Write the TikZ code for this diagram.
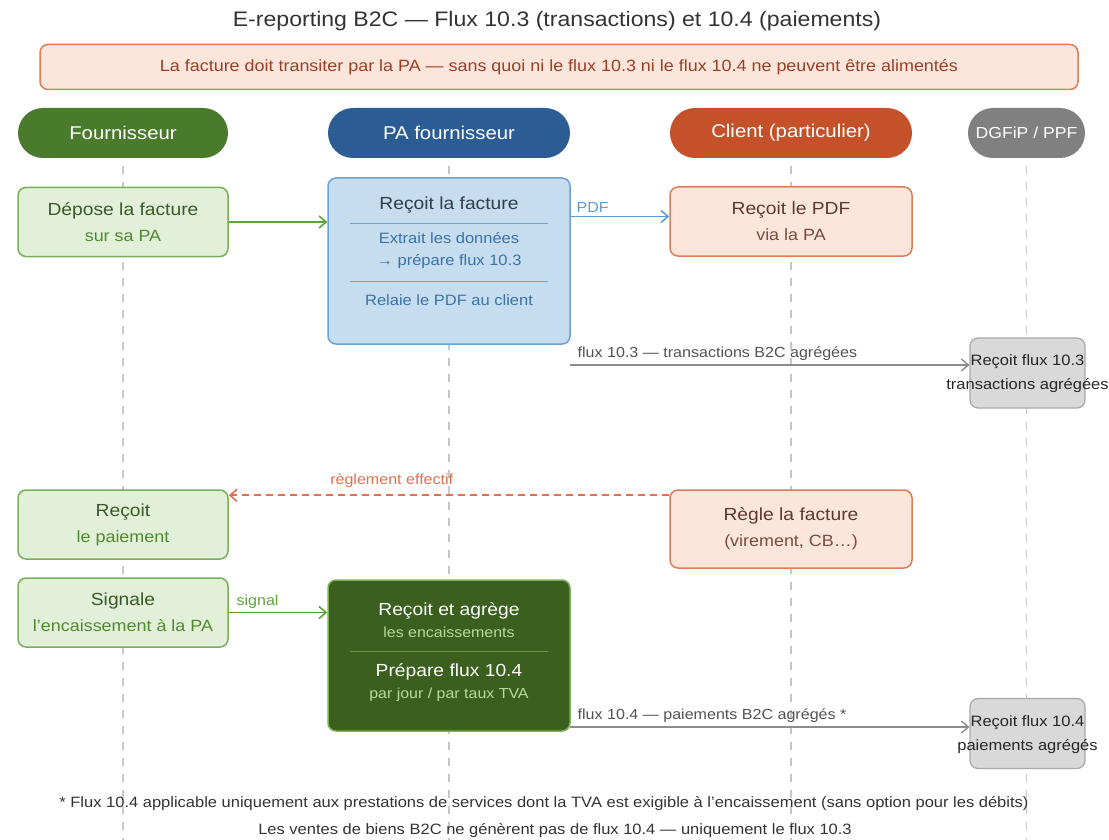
\documentclass[tikz,border=0pt]{standalone}
\usepackage{fontspec}
\setmainfont{Liberation Sans}[FakeStretch=1.1]
\usepackage{tikz}
\usetikzlibrary{arrows.meta}
\usetikzlibrary{positioning}

\definecolor{hdrGreen}{HTML}{4A7A2C}
\definecolor{hdrBlue}{HTML}{2B5C94}
\definecolor{hdrOrange}{HTML}{C4512A}
\definecolor{hdrGrey}{HTML}{808080}
\definecolor{fillGreen}{HTML}{E2F0D9}
\definecolor{edgeGreen}{HTML}{78B05A}
\definecolor{txtGreen}{HTML}{3A5A28}
\definecolor{subGreen}{HTML}{4F8A2E}
\definecolor{fillBlue}{HTML}{C6DDF0}
\definecolor{edgeBlue}{HTML}{6AA3D8}
\definecolor{txtBlue}{HTML}{2E3D4F}
\definecolor{subBlue}{HTML}{3A72A8}
\definecolor{fillPeach}{HTML}{FCE6DB}
\definecolor{edgePeach}{HTML}{DC7E58}
\definecolor{txtPeach}{HTML}{5C3A30}
\definecolor{subPeach}{HTML}{7B4B3E}
\definecolor{fillGrey}{HTML}{D9D9D9}
\definecolor{edgeGrey}{HTML}{A8A8A8}
\definecolor{fillDark}{HTML}{3B5F1F}
\definecolor{subDark}{HTML}{B7DB9C}
\definecolor{laneGrey}{HTML}{C8C8C8}
\definecolor{arrGreen}{HTML}{5EA33A}
\definecolor{arrBlue}{HTML}{5B9BD5}
\definecolor{arrGrey}{HTML}{8C8C8C}
\definecolor{arrOrange}{HTML}{E07050}
\definecolor{bannerTxt}{HTML}{9C3F26}
\definecolor{darkTxt}{HTML}{333333}

\newcommand{\titlesz}{\fontsize{21}{25}\selectfont}
\newcommand{\hdsz}{\fontsize{18.5}{22}\selectfont}
\newcommand{\bigsz}{\fontsize{17.5}{26}\selectfont}
\newcommand{\subsz}{\fontsize{16.3}{26}\selectfont}
\newcommand{\lblsz}{\fontsize{14.6}{17}\selectfont}

\begin{document}
\begin{tikzpicture}[x=1pt,y=-1pt]
  \tikzset{
     lane/.style = {draw=laneGrey, line width=1.2pt, dash pattern=on 8pt off 8pt},
     hdr/.style = {
        rectangle, rounded corners=25pt,
        minimum height=50pt, text=white, font=\hdsz
     },
     gbox/.style = {
        rectangle, rounded corners=8pt, draw=edgeGreen, fill=fillGreen,
        line width=1.5pt, minimum width=210pt, minimum height=69pt,
        align=center, text=txtGreen, font=\bigsz
     },
     pbox/.style = {
        rectangle, rounded corners=8pt, draw=edgePeach, fill=fillPeach,
        line width=1.5pt, minimum width=242pt, minimum height=69pt,
        align=center, text=txtPeach, font=\bigsz
     },
     greybox/.style = {
        rectangle, rounded corners=8pt, draw=edgeGrey, fill=fillGrey,
        line width=1.2pt, minimum width=115pt, minimum height=70pt
     },
     greytxt/.style = {align=center, text=black!85, font=\fontsize{15}{24}\selectfont},
     lbl/.style = {font=\lblsz, inner sep=1pt},
     arr/.style = {-{Straight Barb[length=7pt,width=12pt]}, line width=1.6pt}
  }
  \useasboundingbox (0,0) rectangle (1109,840);
  \coordinate (bottom) at (0,840);

  % title and banner
  \node[font=\titlesz, text=darkTxt] (title) at (557,21)
    {E-reporting B2C — Flux 10.3 (transactions) et 10.4 (paiements)};
  \node[rectangle, rounded corners=8pt, draw=edgePeach, fill=fillPeach, line width=1.5pt,
        minimum width=1038pt, minimum height=45pt, text=bannerTxt,
        font=\fontsize{16.3}{19}\selectfont] (banner) at (559,67)
    {La facture doit transiter par la PA — sans quoi ni le flux 10.3 ni le flux 10.4 ne peuvent être alimentés};

  % lanes
  \node[hdr, fill=hdrGreen, minimum width=210pt] (fourn) at (123,133) {Fournisseur};
  \node[hdr, fill=hdrBlue, minimum width=242pt] (paHdr) at (449,133) {PA fournisseur};
  \node[hdr, fill=hdrOrange, minimum width=242pt] (client) at (791,133) {Client (particulier)};
  \node[hdr, fill=hdrGrey, minimum width=117pt, font=\fontsize{16}{20}\selectfont] (dgfip) at (1026.5,133) {DGFiP / PPF};
  \foreach \h in {fourn,paHdr,client,dgfip}
    \draw[lane] ([yshift=-8pt]\h.south) -- (\h.south |- bottom);

  % facture
  \node[gbox] (depose) at (123,222) {Dépose la facture\\{\subsz\color{subGreen}sur sa PA}};
  \node[rectangle, rounded corners=8pt, draw=edgeBlue, fill=fillBlue, line width=1.5pt,
        minimum width=242pt, minimum height=166pt] (paBox) at (449,261) {};
  \node[font=\bigsz, text=txtBlue] (paRecoit) at (449,205) {Reçoit la facture};
  \draw[edgeBlue, line width=1pt] (350,223) -- (548,223);
  \node[font=\fontsize{15}{22}\selectfont, text=subBlue, align=center] (paExtrait) at (449,251)
    {Extrait les données\\→ prépare flux 10.3};
  \draw[edgeBlue, line width=1pt] (350,281) -- (548,281);
  \node[font=\fontsize{15}{22}\selectfont, text=subBlue] (paRelaie) at (449,300) {Relaie le PDF au client};
  \node[pbox] (clientPdf) at (791,221.5) {Reçoit le PDF\\{\subsz\color{subPeach}via la PA}};
  \node[greybox] (dgfipA) at (1027.5,373) {};
  \node[greytxt] (dgfipAText) at (1027.5,374) {Reçoit flux 10.3\\transactions agrégées};

  % paiement
  \node[gbox] (recoitPaie) at (123,524.5) {Reçoit\\{\subsz\color{subGreen}le paiement}};
  \node[pbox, minimum height=78pt] (clientRegle) at (791,529) {Règle la facture\\{\subsz\color{subPeach}(virement, CB…)}};
  \node[gbox] (signale) at (123,612.5) {Signale\\{\subsz\color{subGreen}l'encaissement à la PA}};
  \node[rectangle, rounded corners=8pt, draw=edgeGreen, fill=fillDark, line width=1.5pt,
        minimum width=242pt, minimum height=151pt] (paGreen) at (449,655.5) {};
  \node[font=\bigsz, text=white, align=center] (paAgrege) at (449,620)
    {Reçoit et agrège\\[-4pt]{\fontsize{14.5}{20}\selectfont\color{subDark}les encaissements}};
  \draw[edgeGreen!70!fillDark, line width=1pt] (350,651) -- (548,651);
  \node[font=\bigsz, text=white, align=center] (paPrepare) at (449,683)
    {Prépare flux 10.4\\[-4pt]{\fontsize{14.5}{20}\selectfont\color{subDark}par jour / par taux TVA}};
  \node[greybox] (dgfipB) at (1027.5,733.5) {};
  \node[greytxt] (dgfipBText) at (1027.5,734.5) {Reçoit flux 10.4\\paiements agrégés};

  % connectors
  \coordinate (pdfIn) at ([yshift=5pt]clientPdf.west);
  \coordinate (f103) at (570,365);
  \coordinate (regleOut) at ([yshift=-6pt]clientRegle.north west);
  \coordinate (f104) at (570,727);
  \draw[arr, arrGreen] (depose.east) -- (paBox.west |- depose.east);
  \draw[arr, arrBlue] (paBox.east |- pdfIn) -- (pdfIn)
    node[lbl, pos=0, anchor=south west, text=arrBlue, xshift=4pt, yshift=2pt] (pdfLbl) {PDF};
  \draw[arr, arrGrey, line width=1.4pt] (f103) -- (dgfipA.west |- f103)
    node[lbl, pos=0, anchor=south west, text=darkTxt!85, xshift=6pt, yshift=3pt] (f103Lbl) {flux 10.3 — transactions B2C agrégées};
  \draw[arr, arrOrange, dashed, dash pattern=on 7pt off 5pt] (regleOut) -- (recoitPaie.east |- regleOut)
    node[lbl, pos=0.63, above, text=arrOrange, yshift=6pt] (regleLbl) {règlement effectif};
  \draw[arr, arrGreen] (signale.east) -- (paGreen.west |- signale.east)
    node[lbl, pos=0, anchor=south west, text=arrGreen, xshift=6pt, yshift=2pt] (signalLbl) {signal};
  \draw[arr, arrGrey, line width=1.4pt] (f104) -- (dgfipB.west |- f104)
    node[lbl, pos=0, anchor=south west, text=darkTxt!85, xshift=6pt, yshift=3pt] (f104Lbl) {flux 10.4 — paiements B2C agrégés *};

  % notes
  \node[font=\fontsize{15}{18}\selectfont, text=darkTxt] (noteA) at (544,804) {* Flux 10.4 applicable uniquement aux prestations de services dont la TVA est exigible à l'encaissement (sans option pour les débits)};
  \node[font=\fontsize{15}{18}\selectfont, text=darkTxt] (noteB) at (555,831) {Les ventes de biens B2C ne génèrent pas de flux 10.4 — uniquement le flux 10.3};
\end{tikzpicture}
\end{document}
